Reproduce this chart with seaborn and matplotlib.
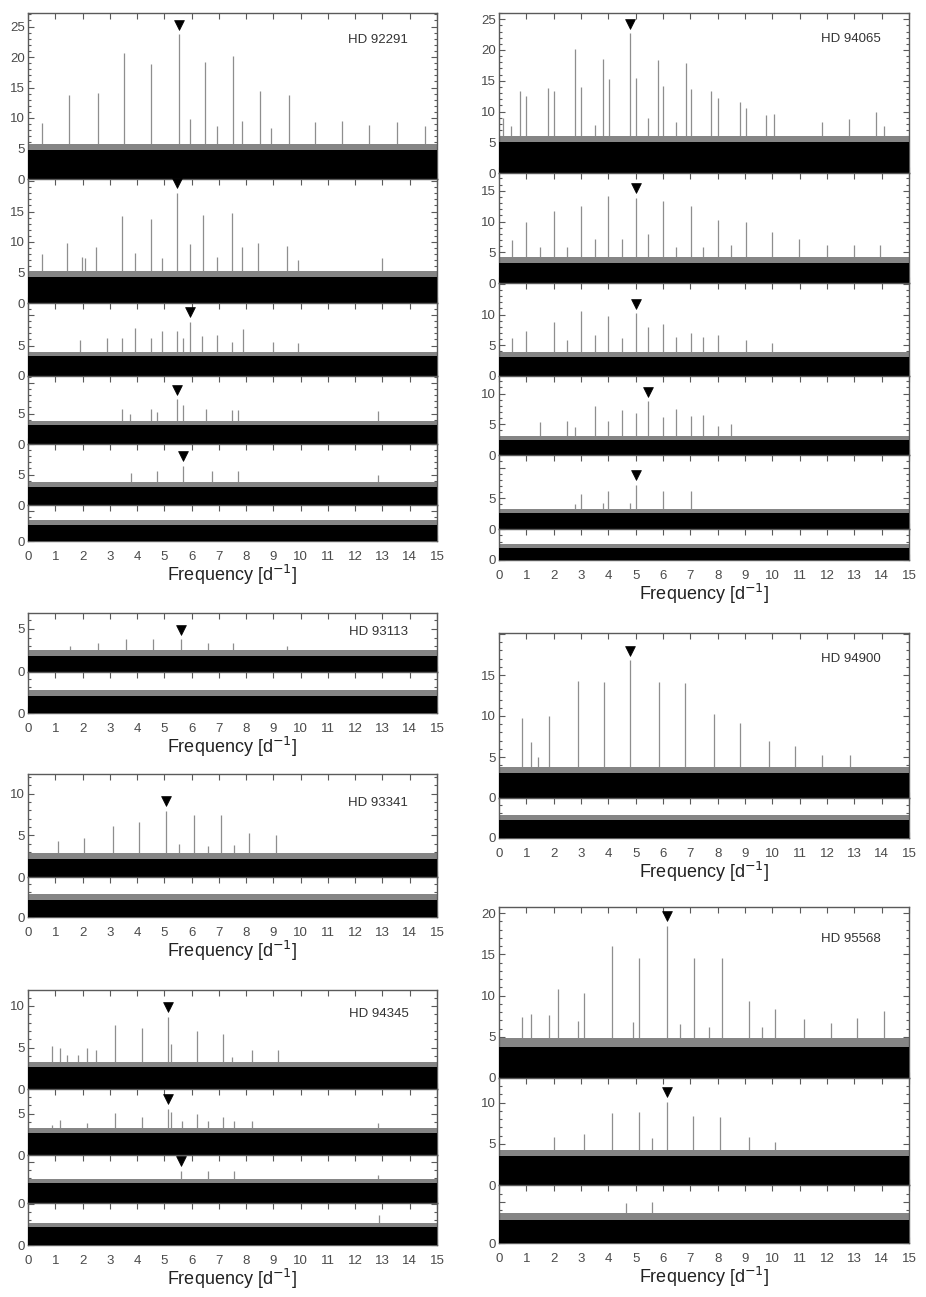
import matplotlib
matplotlib.use("Agg")
import matplotlib.pyplot as plt
from matplotlib.ticker import MultipleLocator, FixedLocator
from matplotlib.transforms import offset_copy
import seaborn as sns

# peak frequencies [1/d] and amplitudes
hd92291_freq = [
    [0.50, 1.50, 2.55, 3.52, 4.50, 5.54, 5.95, 6.49, 6.93, 7.53, 7.86, 8.52, 8.93, 9.56, 10.54, 11.50, 12.52, 13.52, 14.56],
    [0.50, 1.42, 1.97, 2.09, 2.48, 3.43, 3.92, 4.50, 4.90, 5.45, 5.95, 6.43, 6.92, 7.47, 7.86, 8.42, 9.49, 9.89, 12.97],
    [1.91, 2.89, 3.46, 3.92, 4.50, 4.90, 5.45, 5.70, 5.95, 6.37, 6.92, 7.47, 7.87, 9.00, 9.89],
    [3.46, 3.74, 4.50, 4.72, 5.45, 5.70, 6.52, 7.47, 7.71, 12.82],
    [3.77, 4.72, 5.70, 6.76, 7.71, 12.82],
    [],
]
hd92291_amp = [
    [9.2, 13.7, 14.1, 20.7, 18.9, 23.7, 9.8, 19.1, 8.7, 20.2, 9.5, 14.5, 8.4, 13.7, 9.3, 9.5, 8.9, 9.3, 8.7],
    [8.0, 9.8, 7.6, 7.4, 9.2, 14.3, 8.2, 13.7, 7.4, 18.1, 9.6, 14.5, 7.6, 14.8, 9.2, 9.9, 9.3, 7.1, 7.4],
    [5.9, 6.3, 6.3, 7.8, 6.3, 7.3, 7.4, 6.3, 8.9, 6.6, 6.7, 5.5, 7.7, 5.6, 5.4],
    [5.8, 5.0, 5.8, 5.2, 7.3, 6.4, 5.7, 5.6, 5.6, 5.4],
    [5.3, 5.5, 6.4, 5.5, 5.5, 5.0],
    [],
]
hd92291_noise = [4.8, 4.3, 3.2, 3.1, 3.0, 2.6]
hd92291_fringe = [5.8, 5.3, 4.0, 3.8, 3.7, 3.4]
hd92291_marker = [5.54, 5.45, 5.95, 5.45, 5.70, None]

hd93113_freq = [[1.55, 2.58, 3.59, 4.57, 5.61, 6.59, 7.53, 9.50], []]
hd93113_amp = [[3.0, 3.4, 3.8, 3.8, 3.8, 3.4, 3.4, 3.0], []]
hd93113_noise = [1.9, 2.0]
hd93113_fringe = [2.6, 2.7]
hd93113_marker = [5.61, None]

hd93341_freq = [[1.11, 2.07, 3.13, 4.08, 5.06, 5.54, 6.10, 6.59, 7.07, 7.57, 8.12, 9.08], []]
hd93341_amp = [[4.3, 4.7, 6.1, 6.6, 7.9, 3.9, 7.4, 3.7, 7.4, 3.8, 5.3, 5.0], []]
hd93341_noise = [2.2, 2.0]
hd93341_fringe = [2.9, 2.7]
hd93341_marker = [5.06, None]

hd94345_freq = [
    [0.87, 1.17, 1.42, 1.85, 2.15, 2.49, 3.19, 4.17, 5.12, 5.23, 6.19, 7.14, 7.49, 8.20, 9.16],
    [0.87, 1.17, 2.15, 3.19, 4.17, 5.12, 5.23, 5.63, 6.19, 6.59, 7.14, 7.57, 8.20, 12.82],
    [5.61, 6.59, 7.57, 12.82],
    [12.88],
]
hd94345_amp = [
    [5.2, 4.9, 4.1, 4.1, 5.0, 4.7, 7.7, 7.3, 8.7, 5.4, 7.0, 6.6, 3.8, 4.7, 4.7],
    [3.6, 4.2, 3.9, 5.1, 4.6, 5.6, 5.2, 4.1, 4.9, 4.1, 4.6, 4.1, 4.1, 3.8],
    [3.9, 3.9, 3.8, 3.4],
    [3.6],
]
hd94345_noise = [2.7, 2.6, 2.4, 2.2]
hd94345_fringe = [3.3, 3.2, 2.9, 2.7]
hd94345_marker = [5.12, 5.12, 5.61, None]

hd94065_freq = [
    [0.15, 0.45, 0.78, 1.00, 1.79, 2.00, 2.79, 3.01, 3.50, 3.80, 4.01, 4.81, 5.02, 5.45, 5.82,
     6.00, 6.49, 6.83, 7.04, 7.77, 8.01, 8.81, 9.03, 9.78, 10.05, 11.81, 12.82, 13.79, 14.07],
    [0.48, 1.00, 1.51, 2.00, 2.49, 3.01, 3.50, 4.00, 4.49, 5.00, 5.45, 6.00, 6.49, 7.04, 7.46,
     8.01, 8.50, 9.03, 9.99, 10.96, 11.99, 12.97, 13.95],
    [0.48, 1.00, 2.00, 2.49, 3.01, 3.50, 4.00, 4.49, 5.00, 5.45, 6.00, 6.49, 7.04, 7.46, 8.01, 9.03, 9.99],
    [1.51, 2.49, 2.77, 3.50, 4.00, 4.49, 5.00, 5.45, 6.00, 6.49, 7.04, 7.46, 8.01, 8.50],
    [2.77, 3.01, 3.80, 4.00, 4.80, 5.00, 6.00, 7.04],
    [],
]
hd94065_amp = [
    [9.0, 7.6, 13.3, 12.6, 13.9, 13.3, 20.1, 14.0, 7.8, 18.6, 15.3, 22.7, 15.4, 8.9, 18.3,
     14.1, 8.3, 17.9, 13.6, 13.3, 12.2, 11.5, 10.6, 9.5, 9.6, 8.3, 8.7, 10.0, 7.6],
    [7.0, 9.9, 5.9, 11.7, 5.9, 12.6, 7.2, 14.1, 7.2, 13.9, 7.9, 13.3, 5.8, 12.6, 5.8,
     10.3, 6.1, 9.9, 8.3, 7.2, 6.1, 6.1, 6.1],
    [6.1, 7.3, 8.8, 5.8, 10.5, 6.6, 9.7, 6.1, 10.2, 8.0, 8.4, 6.3, 7.0, 6.3, 6.6, 5.8, 5.4],
    [5.4, 5.5, 4.5, 7.9, 5.5, 7.3, 6.9, 8.7, 6.2, 7.5, 6.3, 6.5, 4.7, 5.1],
    [4.1, 5.7, 4.2, 6.1, 4.2, 7.2, 6.1, 6.2],
    [],
]
hd94065_noise = [5.0, 3.3, 3.1, 2.4, 2.6, 1.9]
hd94065_fringe = [6.0, 4.2, 3.9, 3.1, 3.2, 2.6]
hd94065_marker = [4.81, 5.00, 5.00, 5.45, 5.00, None]

hd94900_freq = [[0.85, 1.18, 1.43, 1.83, 2.89, 3.83, 4.81, 5.84, 6.82, 7.85, 8.81, 9.87, 10.84, 11.82, 12.83], []]
hd94900_amp = [[9.7, 6.8, 5.0, 10.0, 14.3, 14.1, 16.8, 14.1, 14.0, 10.3, 9.1, 6.9, 6.4, 5.2, 5.2], []]
hd94900_noise = [3.0, 2.2]
hd94900_fringe = [3.8, 2.8]
hd94900_marker = [4.81, None]

hd95568_freq = [
    [0.85, 1.18, 1.83, 2.16, 2.89, 3.10, 4.15, 4.90, 5.12, 6.16, 6.63, 7.12, 7.67, 8.17, 9.14,
     9.62, 10.11, 11.15, 12.14, 13.11, 14.08],
    [2.00, 3.10, 4.15, 5.12, 5.61, 6.16, 7.10, 8.07, 9.14, 10.11],
    [4.66, 5.61],
]
hd95568_amp = [
    [7.4, 7.8, 7.6, 10.8, 6.9, 10.3, 16.0, 6.8, 14.6, 18.4, 6.5, 14.5, 6.2, 14.6, 9.3,
     6.2, 8.4, 7.1, 6.7, 7.3, 8.1],
    [5.8, 6.2, 8.7, 8.9, 5.7, 10.1, 8.4, 8.2, 5.8, 5.2],
    [4.8, 5.0],
]
hd95568_noise = [3.8, 3.5, 2.8]
hd95568_fringe = [4.8, 4.3, 3.6]
hd95568_marker = [6.16, 6.16, None]

stars = [
    ("HD 92291", hd92291_freq, hd92291_amp, hd92291_noise, hd92291_fringe, hd92291_marker),
    ("HD 93113", hd93113_freq, hd93113_amp, hd93113_noise, hd93113_fringe, hd93113_marker),
    ("HD 93341", hd93341_freq, hd93341_amp, hd93341_noise, hd93341_fringe, hd93341_marker),
    ("HD 94345", hd94345_freq, hd94345_amp, hd94345_noise, hd94345_fringe, hd94345_marker),
    ("HD 94065", hd94065_freq, hd94065_amp, hd94065_noise, hd94065_fringe, hd94065_marker),
    ("HD 94900", hd94900_freq, hd94900_amp, hd94900_noise, hd94900_fringe, hd94900_marker),
    ("HD 95568", hd95568_freq, hd95568_amp, hd95568_noise, hd95568_fringe, hd95568_marker),
]

# layout in pixels: column, panel edges (top->bottom), pixels per amplitude unit,
# labelled y ticks per panel, star label height (axes fraction)
layout = {
    "HD 92291": (0, [13, 179, 303, 376, 444, 505, 541], 6.1,
                 [[0, 5, 10, 15, 20, 25], [0, 5, 10, 15], [0, 5], [0, 5], [0, 5], [0]], 0.84),
    "HD 93113": (0, [613, 672, 713], 8.6, [[0, 5], [0]], 0.68),
    "HD 93341": (0, [774, 877, 917], 8.35, [[0, 5, 10], [0]], 0.72),
    "HD 94345": (0, [990, 1089, 1155, 1203, 1245], 8.3, [[0, 5, 10], [0, 5], [0], [0]], 0.76),
    "HD 94065": (1, [13, 173, 283, 376, 455, 529, 560], 6.15,
                 [[0, 5, 10, 15, 20, 25], [0, 5, 10, 15], [0, 5, 10], [0, 5, 10], [0, 5], [0]], 0.84),
    "HD 94900": (1, [633, 798, 838], 8.2, [[0, 5, 10, 15], [0]], 0.84),
    "HD 95568": (1, [907, 1078, 1185, 1243], 8.25, [[0, 5, 10, 15, 20], [0, 5, 10], [0]], 0.81),
}
col_x = [(28, 437), (499, 909)]
W, H = 926, 1297

sns.set_theme(style="ticks")
plt.rcParams["font.family"] = ["Liberation Sans", "DejaVu Sans"]
plt.rcParams["mathtext.fontset"] = "dejavusans"

frame = "#5a5a5a"
peak_col = "#8e8e8e"

fig = plt.figure(figsize=(W / 100, H / 100), dpi=100)

for name, freqs, amps, noise, fringe, markers in stars:
    col, edges, ppu, labelled, label_y = layout[name]
    x0, x1 = col_x[col]
    n = len(freqs)
    for i in range(n):
        top, bot = edges[i], edges[i + 1]
        ax = fig.add_axes([x0 / W, 1 - bot / H, (x1 - x0) / W, (bot - top) / H])
        ymax = (bot - top) / ppu

        # peaks, grey noise fringe, black noise floor
        ax.vlines(freqs[i], 0, amps[i], color=peak_col, lw=0.9, zorder=1)
        ax.fill_between([0, 15], 0, fringe[i], color="#858585", lw=0, zorder=2)
        ax.fill_between([0, 15], 0, noise[i], color="black", lw=0, zorder=3)

        if markers[i] is not None:
            a = amps[i][freqs[i].index(markers[i])]
            tr = offset_copy(ax.transData, fig=fig, y=7, units="points")
            sns.scatterplot(x=[markers[i]], y=[a], marker="v", s=50, color="black",
                            edgecolor="black", linewidth=0.5, transform=tr, ax=ax,
                            zorder=5, clip_on=False, legend=False)

        ax.set_xlim(0, 15)
        ax.set_ylim(0, ymax)
        ax.xaxis.set_major_locator(FixedLocator(range(16)))
        major = [v for v in range(0, 30, 5) if v <= ymax]
        ax.yaxis.set_major_locator(FixedLocator(major))
        ax.set_yticklabels([str(v) if v in labelled[i] else "" for v in major])
        ax.yaxis.set_minor_locator(MultipleLocator(1))
        ax.tick_params(which="both", direction="in", top=True, right=True,
                       colors=frame, labelcolor="#4a4a4a", labelsize=9.5, width=0.8)
        ax.tick_params(which="major", length=4)
        ax.tick_params(axis="y", which="major", pad=2)
        ax.tick_params(axis="x", which="major", pad=7)
        ax.tick_params(which="minor", length=2)
        for s in ax.spines.values():
            s.set_color(frame)
            s.set_linewidth(1.0)

        if i == 0:
            ax.text(0.93, label_y, name, transform=ax.transAxes, ha="right",
                    va="center", fontsize=9.5, color="#333333")
        if i == n - 1:
            ax.set_xlabel(r"Frequency [d$^{-1}$]", fontsize=13, color="#222222", labelpad=0)
        else:
            ax.tick_params(axis="x", labelbottom=False)
        ax.set_ylabel("")

fig.savefig("out.png", dpi=100)
